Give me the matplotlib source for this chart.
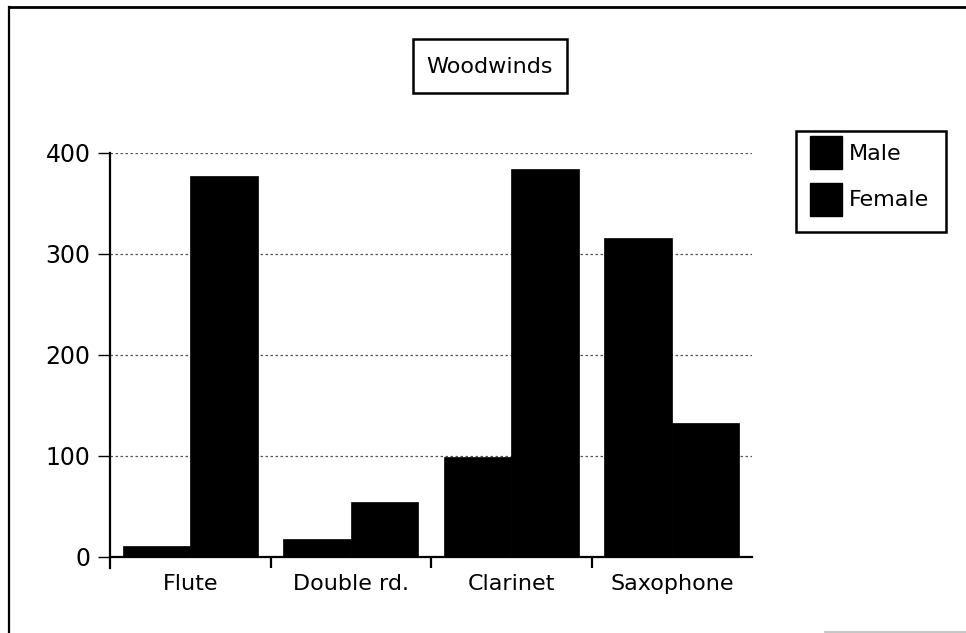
import matplotlib
matplotlib.use("Agg")
import matplotlib.pyplot as plt
from matplotlib.patches import Rectangle
from matplotlib.lines import Line2D
import numpy as np

categories = ["Flute", "Double rd.", "Clarinet", "Saxophone"]
male = [11, 18, 99, 316]
female = [377, 54, 384, 133]
series_names = ["Male", "Female"]
title = "Woodwinds"
yticks = [0, 100, 200, 300, 400]

W, H = 966, 633
fig = plt.figure(figsize=(W / 100, H / 100), dpi=100)
plt.rcParams['font.family'] = ['DejaVu Sans']

def fx(px):
    return px / W

def fy(py):
    return 1 - py / H

ax_l, ax_r, ax_t, ax_b = 110, 752, 153, 568
ax = fig.add_axes([fx(ax_l), fy(ax_b), fx(ax_r - ax_l), (ax_b - ax_t) / H])

x = np.arange(len(categories))
bw = 0.42
ax.bar(x - bw / 2, male, width=bw, color="black", edgecolor="black", linewidth=0.5, zorder=3)
ax.bar(x + bw / 2, female, width=bw, color="black", edgecolor="black", linewidth=0.5, zorder=3)

ax.set_xlim(-0.5, len(categories) - 0.5)
ax.set_ylim(-11, 400)

for s in ["top", "right"]:
    ax.spines[s].set_visible(False)
ax.spines["bottom"].set_position(("data", 0))
ax.spines["left"].set_linewidth(1.6)
ax.spines["bottom"].set_linewidth(1.6)

ax.set_yticks(yticks)
ax.set_yticklabels([str(v) for v in yticks], fontsize=17)
ax.tick_params(axis="y", direction="out", length=9, width=1, pad=5)

ax.set_xticks(x[:-1] + 0.5)
ax.set_xticklabels([])
ax.tick_params(axis="x", which="major", direction="out", length=8, width=1.6)
ax.set_xticks(x, minor=True)
ax.set_xticklabels(categories, minor=True, fontsize=16)
ax.tick_params(axis="x", which="minor", length=0, pad=12)

for v in yticks[1:]:
    ax.axhline(v, color="#555555", linewidth=0.9, linestyle=(0, (2, 2)), zorder=1)

# Title box
tb = (413, 39, 567, 93)
fig.patches.append(Rectangle((fx(tb[0]), fy(tb[3])), fx(tb[2] - tb[0]), (tb[3] - tb[1]) / H,
                             transform=fig.transFigure, fill=False, edgecolor="black", linewidth=1.8))
fig.text(fx((tb[0] + tb[2]) / 2), fy((tb[1] + tb[3]) / 2 + 1), title, ha="center", va="center", fontsize=16)

# Legend box
lb = (796, 131, 946, 232)
fig.patches.append(Rectangle((fx(lb[0]), fy(lb[3])), fx(lb[2] - lb[0]), (lb[3] - lb[1]) / H,
                             transform=fig.transFigure, fill=False, edgecolor="black", linewidth=1.8))
rows = [(136, 169), (183, 216)]
for name, (t, b) in zip(series_names, rows):
    fig.patches.append(Rectangle((fx(810), fy(b)), fx(32), (b - t) / H,
                                 transform=fig.transFigure, facecolor="black", edgecolor="black"))
    fig.text(fx(849), fy((t + b) / 2 + 1), name, ha="left", va="center", fontsize=16)

# Outer frame lines
fig.add_artist(Line2D([fx(9), fx(966)], [fy(7), fy(7)], transform=fig.transFigure, color="black", linewidth=2))
fig.add_artist(Line2D([fx(9), fx(9)], [fy(7), fy(633)], transform=fig.transFigure, color="black", linewidth=1.6))
fig.add_artist(Line2D([fx(825), fx(966)], [fy(632), fy(632)], transform=fig.transFigure, color="#bbbbbb", linewidth=1.2))

fig.savefig("out.png", dpi=100)
